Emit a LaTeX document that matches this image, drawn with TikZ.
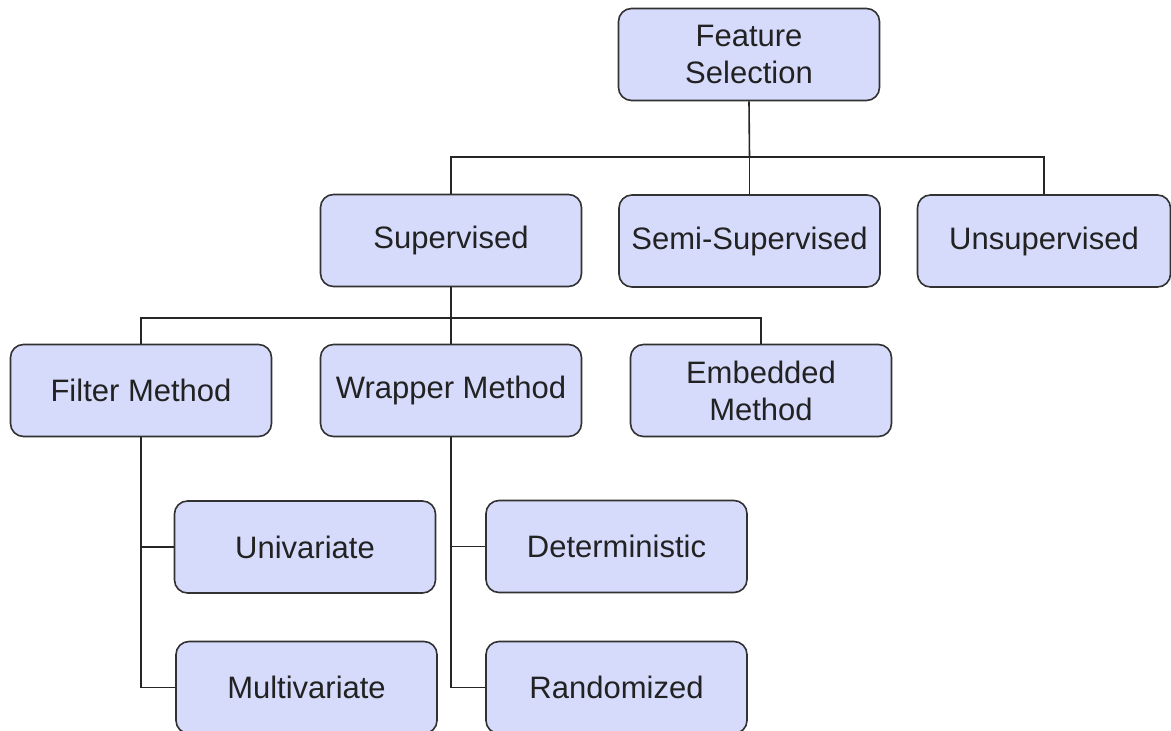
\documentclass[tikz,border=0pt]{standalone}
\usepackage{fontspec}
\setmainfont{Liberation Sans}
\definecolor{boxfill}{RGB}{214,219,252}
\definecolor{boxline}{RGB}{50,50,50}
\definecolor{txt}{RGB}{34,34,34}
\begin{document}
\begin{tikzpicture}[x=1pt,y=-1pt,
  box/.style={draw=boxline,fill=boxfill,line width=1.6pt,rounded corners=13pt,
    minimum width=261pt,minimum height=92pt,inner sep=0pt,align=center,
    text=txt,font=\fontsize{31}{37}\selectfont},
  conn/.style={draw=black!85,line width=1.6pt}]
\useasboundingbox[fill=white] (0,0) rectangle (1171,731);
\node[box] (fs) at (749,54.5) {Feature\\Selection};
\node[box] (sup) at (451,240.5) {Supervised};
\node[box] (semi) at (749.5,241) {Semi-Supervised};
\node[box,minimum width=253pt] (unsup) at (1044,241) {Unsupervised};
\node[box] (filter) at (141,390.5) {Filter Method};
\node[box] (wrap) at (451,390.5) {Wrapper Method};
\node[box] (emb) at (761,390.5) {Embedded\\Method};
\node[box] (uni) at (305,547) {Univariate};
\node[box] (det) at (616.5,546.5) {Deterministic};
\node[box] (multi) at (306.5,687.5) {Multivariate};
\node[box] (rand) at (616.5,687.5) {Randomized};
\coordinate (j1) at (749.5,157);
\coordinate (j2) at (451,318);
\draw[conn] (fs.south) -- (j1);
\draw[conn] (j1) -| (sup.north);
\draw[conn] (j1) -- (semi.north);
\draw[conn] (j1) -| (unsup.north);
\draw[conn] (sup.south) -- (j2);
\draw[conn] (j2) -| (filter.north);
\draw[conn] (j2) -- (wrap.north);
\draw[conn] (j2) -| (emb.north);
\draw[conn] (filter.south) |- (multi.west);
\draw[conn] (filter.south |- uni.west) -- (uni.west);
\draw[conn] (wrap.south) |- (rand.west);
\draw[conn] (wrap.south |- det.west) -- (det.west);
\end{tikzpicture}
\end{document}
